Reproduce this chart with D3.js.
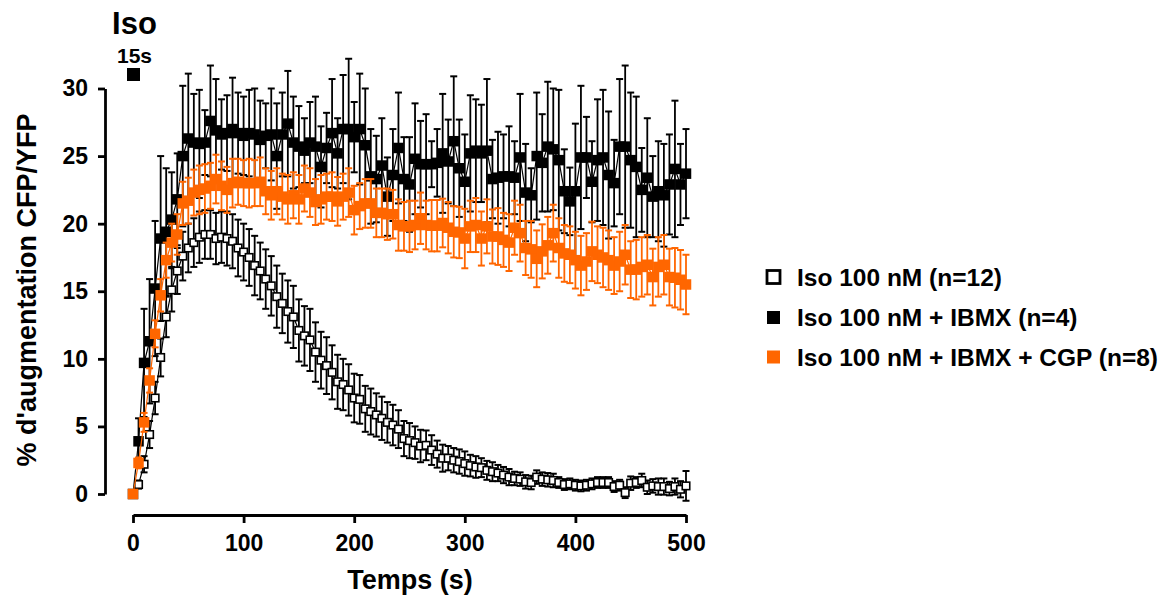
<!DOCTYPE html>
<html><head><meta charset="utf-8">
<script src="https://cdn.jsdelivr.net/npm/d3@7"></script>
<style>
html,body{margin:0;padding:0;background:#fff;}
svg text{font-family:"Liberation Sans",Arial,sans-serif;font-weight:bold;}
</style></head>
<body><svg id="chart" width="1164" height="595"></svg>
<script>
const times = [0,5,10,15,20,25,30,35,40,45,50,55,60,65,70,75,80,85,90,95,100,105,110,115,120,125,130,135,140,145,150,155,160,165,170,175,180,185,190,195,200,205,210,215,220,225,230,235,240,245,250,255,260,265,270,275,280,285,290,295,300,305,310,315,320,325,330,335,340,345,350,355,360,365,370,375,380,385,390,395,400,405,410,415,420,425,430,435,440,445,450,455,460,465,470,475,480,485,490,495,500];

const isoValues = [0,0.7,2.2,4.4,7.1,10.1,13.1,15.1,16.5,17.6,
 18.2,18.6,19.0,19.2,19.2,18.9,19.0,18.9,18.7,18.2,
 17.9,17.5,16.9,16.5,15.9,15.4,14.6,14.1,13.5,13.1,
 12.1,11.7,11.4,10.5,9.9,9.5,9.0,8.3,8.1,7.7,
 7.1,7.0,6.3,6.1,5.85,5.6,5.3,5.1,4.8,4.1,
 3.95,3.8,3.55,3.6,3.25,2.95,2.65,2.65,2.5,2.4,
 2.25,2.1,2.0,1.95,1.75,1.65,1.55,1.4,1.25,1.15,
 1.1,0.9,0.85,1.25,1.1,1.05,1.0,0.85,0.7,0.75,
 0.65,0.6,0.65,0.75,0.85,0.85,0.85,0.55,0.65,0.1,
 0.8,0.85,1.0,0.5,0.6,0.55,0.55,0.4,0.55,0.35,
 0.6];
const isoErrors = [0,0.3,0.6,1.0,1.2,1.4,1.5,1.6,1.7,1.8,
 1.8,1.8,1.9,1.8,1.8,1.9,1.9,2.0,2.0,2.1,
 2.1,2.1,2.2,2.1,2.2,2.2,2.3,2.2,2.3,2.3,
 2.3,2.2,2.3,2.2,2.1,2.1,2.0,2.0,1.9,1.9,
 1.8,1.8,1.7,1.7,1.6,1.6,1.5,1.5,1.4,1.3,
 1.3,1.2,1.2,1.1,1.1,1.0,1.0,0.9,0.9,0.9,
 0.9,0.8,0.8,0.7,0.7,0.7,0.6,0.6,0.6,0.5,
 0.5,0.5,0.5,0.5,0.5,0.5,0.5,0.4,0.4,0.4,
 0.4,0.4,0.4,0.4,0.4,0.4,0.4,0.4,0.4,0.4,
 0.5,0.4,0.5,0.5,0.5,0.6,0.6,0.5,0.6,0.6,
 1.1];

const ibmxValues = [0,3.9,9.7,11.3,15.2,18.9,19.4,20.3,21.8,25.0,
 26.3,26.0,25.9,26.0,27.6,26.9,26.6,26.7,27.0,26.7,
 26.5,26.7,26.6,26.2,26.5,26.6,25.0,26.6,27.4,26.0,
 25.7,25.4,26.0,25.7,24.2,25.6,26.7,25.2,27.0,27.0,
 26.4,27.0,25.8,23.5,23.3,24.3,22.0,23.6,25.6,23.3,
 22.9,24.8,24.4,24.4,24.4,24.5,25.2,24.6,26.1,24.1,
 23.1,25.2,25.4,25.2,25.4,23.3,23.4,23.5,23.5,23.4,
 24.9,22.3,22.1,25.0,24.5,25.7,25.5,24.7,22.4,21.65,
 22.4,24.9,24.9,23.1,24.7,24.9,23.6,23.0,25.7,25.7,
 24.7,24.2,22.5,23.4,22.0,22.4,22.1,22.9,24.05,22.9,
 23.7];
const ibmxErrors = [0,1.7,4.0,4.6,5.0,6.1,4.7,3.5,3.4,5.2,
 4.8,3.6,4.0,2.4,4.1,3.8,2.6,2.8,3.8,3.0,
 2.9,3.2,3.4,2.9,2.4,3.4,3.9,3.1,3.9,3.4,
 3.0,2.4,3.0,3.7,3.0,2.6,4.0,2.6,4.0,5.2,
 2.6,4.1,4.2,3.5,3.2,3.5,2.9,3.4,4.1,3.1,
 3.5,4.1,3.2,3.7,1.7,2.5,4.4,3.1,4.8,3.6,
 3.5,4.3,3.8,3.6,5.3,2.9,3.4,3.1,3.7,2.7,
 4.7,3.6,2.0,4.7,3.6,4.8,4.5,5.2,3.1,2.5,
 5.0,5.3,3.0,3.0,4.5,5.0,4.7,3.2,5.0,6.0,
 5.0,5.2,3.1,4.4,3.0,3.7,3.8,3.7,5.05,3.0,
 3.3];

const cgpValues = [0,2.3,5.3,8.4,11.85,14.7,17.3,18.6,19.2,21.5,
 21.7,22.3,22.5,22.6,22.8,23.3,22.8,22.5,23.0,23.1,
 23.0,23.0,23.0,23.1,22.4,22.1,22.4,22.0,21.8,22.1,
 21.8,22.6,22.3,21.6,21.8,22.0,22.0,21.65,22.0,22.3,
 21.0,21.3,21.5,21.5,20.8,20.8,20.7,20.7,19.9,19.8,
 19.8,19.9,20.4,19.9,19.85,19.85,20.05,19.7,19.4,19.35,
 18.9,19.8,19.9,18.9,19.8,19.05,19.05,18.8,18.6,19.7,
 19.3,18.2,18.1,17.4,17.95,18.4,19.3,18.2,17.8,17.7,
 17.3,16.9,17.2,17.95,17.7,17.5,17.3,16.9,17.2,17.7,
 16.6,16.6,16.8,16.96,16.05,16.8,16.96,16.05,16.0,15.85,
 15.5];
const cgpErrors = [0,0.4,0.7,0.9,1.0,1.2,1.3,1.4,1.5,1.6,
 1.7,1.7,1.8,1.8,1.7,1.8,1.8,1.7,1.8,1.7,
 1.7,1.8,1.7,1.8,1.7,1.8,1.7,1.7,1.8,1.7,
 1.8,1.7,1.8,1.7,1.8,1.7,1.8,1.8,1.7,1.8,
 1.8,1.7,1.8,1.8,1.8,1.8,1.9,1.8,1.9,1.8,
 1.9,1.8,1.9,1.8,1.9,1.9,1.8,1.9,1.9,1.9,
 2.2,1.9,2.0,2.0,2.0,2.0,2.1,2.0,2.1,2.0,
 2.1,2.0,2.1,2.1,2.0,2.1,2.1,2.2,2.1,2.1,
 2.1,2.2,2.1,2.2,2.1,2.2,2.2,2.1,2.2,2.2,
 2.1,2.2,2.2,2.2,2.1,2.2,2.2,2.1,2.2,2.2,
 2.2];

const seriesNames = ["Iso 100 nM (n=12)", "Iso 100 nM + IBMX (n=4)", "Iso 100 nM + IBMX + CGP (n=8)"];
const xTicks = [0,100,200,300,400,500];
const yTicks = [0,5,10,15,20,25,30];

const svg = d3.select("#chart");
const x = d3.scaleLinear().domain([0,500]).range([133,686]);
const y = d3.scaleLinear().domain([0,30]).range([494,88.5]);

const ORANGE = "#ff6600";
const series = [
  {name: seriesNames[0], vals: isoValues, errs: isoErrors, fill: "#fff", stroke: "#000", bar: "#000", line: "#000", size: 7.5, sw: 1.6},
  {name: seriesNames[1], vals: ibmxValues, errs: ibmxErrors, fill: "#000", stroke: "#000", bar: "#000", line: "#000", size: 10.5, sw: 0},
  {name: seriesNames[2], vals: cgpValues, errs: cgpErrors, fill: ORANGE, stroke: ORANGE, bar: ORANGE, line: ORANGE, size: 10.5, sw: 0}
];

const plot = svg.append("g");
series.forEach(s => {
  const pts = times.map((t,i) => ({t, v: s.vals[i], e: s.errs[i]}));
  const g = plot.append("g");
  const eb = g.selectAll("g.eb").data(pts.filter(d => d.e > 0)).join("g");
  eb.append("line")
    .attr("x1", d => x(d.t)).attr("x2", d => x(d.t))
    .attr("y1", d => y(d.v + d.e)).attr("y2", d => y(d.v - d.e))
    .attr("stroke", s.bar).attr("stroke-width", 1.8);
  [1,-1].forEach(sg => {
    eb.append("line")
      .attr("x1", d => x(d.t) - 3.5).attr("x2", d => x(d.t) + 3.5)
      .attr("y1", d => y(d.v + sg*d.e)).attr("y2", d => y(d.v + sg*d.e))
      .attr("stroke", s.bar).attr("stroke-width", 2);
  });
  g.append("path").datum(pts)
    .attr("d", d3.line().x(d => x(d.t)).y(d => y(d.v)))
    .attr("fill", "none").attr("stroke", s.line).attr("stroke-width", 1.2);
  g.selectAll("rect").data(pts).join("rect")
    .attr("x", d => x(d.t) - s.size/2).attr("y", d => y(d.v) - s.size/2)
    .attr("width", s.size).attr("height", s.size)
    .attr("fill", s.fill)
    .attr("stroke", s.sw ? s.stroke : "none").attr("stroke-width", s.sw);
});

const yAxis = svg.append("g").attr("transform", "translate(105,0)")
  .call(d3.axisLeft(y).tickValues(yTicks).tickSize(7).tickSizeOuter(0).tickPadding(10));
const xAxis = svg.append("g").attr("transform", "translate(0,515)")
  .call(d3.axisBottom(x).tickValues(xTicks).tickSize(8).tickSizeOuter(0).tickPadding(12));
[yAxis, xAxis].forEach(a => {
  a.select(".domain").attr("stroke", "#000").attr("stroke-width", 2.8);
  a.selectAll(".tick line").attr("stroke", "#000").attr("stroke-width", 2.8);
  a.selectAll(".tick text").attr("fill", "#000").style("font-size", "23px");
});

svg.append("text").attr("x", 410).attr("y", 589).attr("text-anchor", "middle")
  .style("font-size", "27px").text("Temps (s)");
svg.append("text").attr("transform", "translate(36,290) rotate(-90)")
  .attr("text-anchor", "middle").style("font-size", "27px").text("% d'augmentation CFP/YFP");

svg.append("text").attr("x", 134.5).attr("y", 34).attr("text-anchor", "middle")
  .style("font-size", "31px").text("Iso");
svg.append("text").attr("x", 134.5).attr("y", 62.5).attr("text-anchor", "middle")
  .style("font-size", "21px").text("15s");
svg.append("rect").attr("x", x(0) - 6).attr("y", 68).attr("width", 13).attr("height", 13).attr("fill", "#000");

const legY = [277, 317.5, 357];
series.forEach((s,i) => {
  const cy = legY[i];
  svg.append("rect").attr("x", 767).attr("y", cy - 6.5).attr("width", 13).attr("height", 13)
    .attr("fill", s.fill).attr("stroke", i === 0 ? "#000" : "none").attr("stroke-width", 2.8);
  svg.append("text").attr("x", 797).attr("y", cy + 8.5)
    .style("font-size", "24.5px").text(s.name);
});
</script></body></html>
